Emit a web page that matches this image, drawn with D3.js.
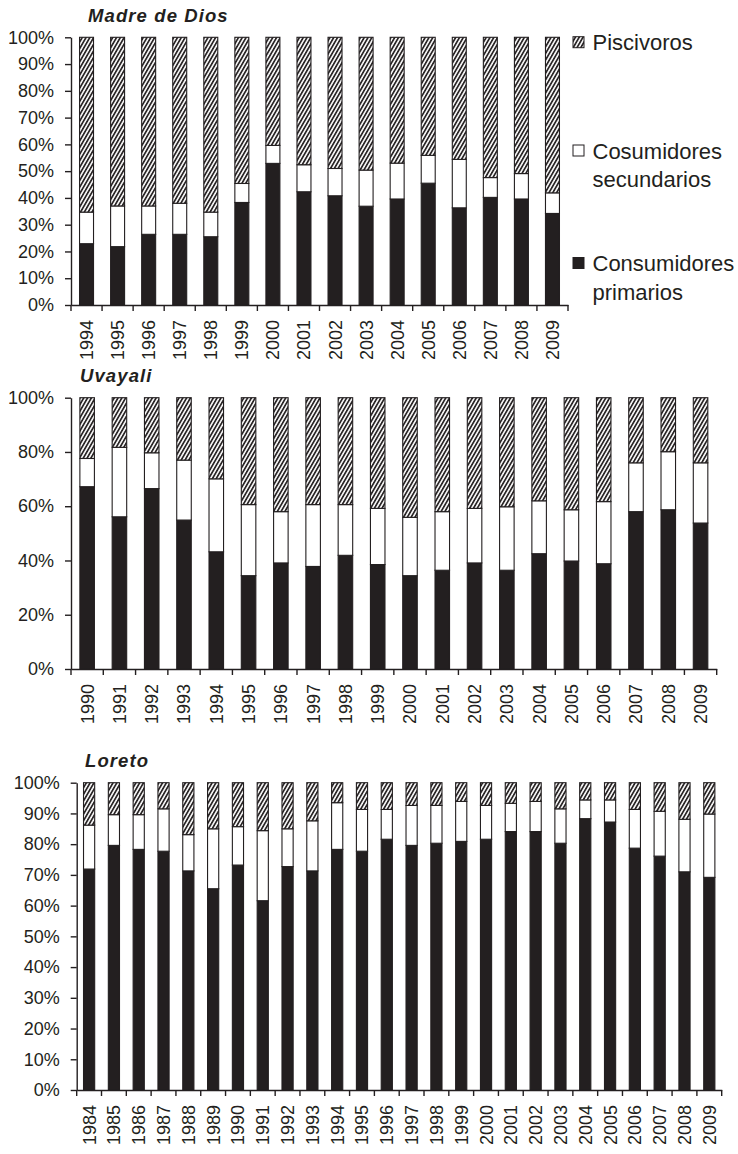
<!DOCTYPE html>
<html>
<head>
<meta charset="utf-8">
<script src="https://cdn.jsdelivr.net/npm/d3@7"></script>
<style>
  body { margin: 0; background: #fff; }
  svg { display: block; font-family: "Liberation Sans", Arial, sans-serif; }
</style>
</head>
<body>
<div id="chart"></div>
<script>
// Madre de Dios
const yearsMadre = ["1994","1995","1996","1997","1998","1999","2000","2001","2002","2003","2004","2005","2006","2007","2008","2009"];
const primMadre = [22.9,21.8,26.4,26.4,25.5,38.3,52.9,42.3,40.8,36.9,39.6,45.5,36.3,40.2,39.6,34.2];
const secMadre  = [11.8,15.2,10.6,11.6,9.2,7.1,6.7,10.1,10.2,13.5,13.4,10.4,18.1,7.4,9.5,7.7];
const pisMadre  = [65.3,63.0,63.0,62.0,65.3,54.6,40.4,47.6,49.0,49.6,47.0,44.1,45.6,52.4,50.9,58.1];

// Uvayali
const yearsUva = ["1990","1991","1992","1993","1994","1995","1996","1997","1998","1999","2000","2001","2002","2003","2004","2005","2006","2007","2008","2009"];
const primUva = [67.2,56.1,66.5,54.9,43.2,34.4,39.1,37.8,41.9,38.5,34.4,36.4,39.1,36.4,42.5,39.8,38.8,58.0,58.7,53.8];
const secUva  = [10.4,25.6,13.2,22.1,26.9,26.2,18.9,22.8,18.7,20.7,21.5,21.6,20.1,23.4,19.5,18.9,22.9,18.0,21.4,22.2];
const pisUva  = [22.4,18.3,20.3,23.0,29.9,39.4,42.0,39.4,39.4,40.8,44.1,42.0,40.8,40.2,38.0,41.3,38.3,24.0,19.9,24.0];

// Loreto
const yearsLor = ["1984","1985","1986","1987","1988","1989","1990","1991","1992","1993","1994","1995","1996","1997","1998","1999","2000","2001","2002","2003","2004","2005","2006","2007","2008","2009"];
const primLor = [71.9,79.6,78.3,77.7,71.3,65.5,73.2,61.6,72.7,71.3,78.3,77.7,81.6,79.6,80.3,80.9,81.6,84.1,84.1,80.3,88.3,87.2,78.7,76.1,71.0,69.2];
const secLor  = [14.3,10.0,11.3,13.8,11.8,19.5,12.5,22.8,12.3,16.3,15.2,13.6,9.7,13.0,12.3,13.0,11.0,9.2,9.8,11.2,6.1,7.2,12.6,14.6,17.1,20.6];
const pisLor  = [13.8,10.4,10.4,8.5,16.9,15.0,14.3,15.6,15.0,12.4,6.5,8.7,8.7,7.4,7.4,6.1,7.4,6.7,6.1,8.5,5.6,5.6,8.7,9.3,11.9,10.2];

const seriesKeys = ["prim", "sec", "pis"];
const legendLabels = [["Piscivoros"], ["Cosumidores", "secundarios"], ["Consumidores", "primarios"]];
const ink = "#231f20";

const width = 738, height = 1154;
const svg = d3.select("#chart").append("svg")
  .attr("width", width)
  .attr("height", height);

// hatch pattern for piscivoros
const defs = svg.append("defs");
defs.append("pattern")
  .attr("id", "hatch")
  .attr("patternUnits", "userSpaceOnUse")
  .attr("width", 3.3)
  .attr("height", 3.3)
  .attr("patternTransform", "rotate(30)")
  .call(p => {
    p.append("rect").attr("width", 3.3).attr("height", 3.3).attr("fill", "#fff");
    p.append("line").attr("x1", 0.9).attr("y1", 0).attr("x2", 0.9).attr("y2", 3.3)
      .attr("stroke", ink).attr("stroke-width", 1.7);
  });

const fills = { prim: ink, sec: "#fff", pis: "url(#hatch)" };

const panels = [
  { title: "Madre de Dios", years: yearsMadre, prim: primMadre, sec: secMadre, pis: pisMadre,
    left: 71, right: 568, top: 37.3, bottom: 305, ticks: d3.range(0, 1.01, 0.1), titleX: 88, titleY: 22 },
  { title: "Uvayali", years: yearsUva, prim: primUva, sec: secUva, pis: pisUva,
    left: 71, right: 716.7, top: 397.7, bottom: 669, ticks: d3.range(0, 1.01, 0.2), titleX: 80, titleY: 382 },
  { title: "Loreto", years: yearsLor, prim: primLor, sec: secLor, pis: pisLor,
    left: 76.7, right: 721.7, top: 782.7, bottom: 1090, ticks: d3.range(0, 1.01, 0.1), titleX: 85, titleY: 767 }
];

panels.forEach(drawPanel);

function drawPanel(p) {
  const rows = p.years.map((y, i) => ({ year: y, prim: p.prim[i], sec: p.sec[i], pis: p.pis[i] }));
  const stacked = d3.stack().keys(seriesKeys).offset(d3.stackOffsetExpand)(rows);

  const x = d3.scaleBand()
    .domain(p.years)
    .range([p.left, p.right])
    .paddingInner(0.55)
    .paddingOuter(0.275);
  const y = d3.scaleLinear().domain([0, 1]).range([p.bottom, p.top]);

  const g = svg.append("g");

  // bars
  g.selectAll("g.layer")
    .data(stacked)
    .join("g")
    .attr("class", "layer")
    .attr("fill", d => fills[d.key])
    .selectAll("rect")
    .data(d => d)
    .join("rect")
    .attr("x", d => x(d.data.year))
    .attr("y", d => y(d[1]))
    .attr("width", x.bandwidth())
    .attr("height", d => y(d[0]) - y(d[1]))
    .attr("stroke", ink)
    .attr("stroke-width", 1.1);

  // y axis
  const yAxis = g.append("g")
    .attr("transform", `translate(${p.left},0)`)
    .call(d3.axisLeft(y).tickValues(p.ticks).tickFormat(d3.format(".0%"))
      .tickSize(6).tickSizeOuter(0).tickPadding(11));
  yAxis.select(".domain").attr("stroke", ink).attr("stroke-width", 1.4);
  yAxis.selectAll(".tick line").attr("stroke", ink).attr("stroke-width", 1.4);
  yAxis.selectAll("text")
    .attr("font-size", 18)
    .attr("font-family", "Liberation Sans, Arial, sans-serif")
    .attr("fill", ink);

  // x axis: labels from band scale, ticks at band boundaries
  const xAxis = g.append("g")
    .attr("transform", `translate(0,${p.bottom})`)
    .call(d3.axisBottom(x).tickSize(0).tickSizeOuter(0));
  xAxis.select(".domain").attr("stroke", ink).attr("stroke-width", 1.4);
  xAxis.selectAll("text")
    .attr("transform", "rotate(-90)")
    .attr("x", -15)
    .attr("y", 0)
    .attr("dy", "0.36em")
    .attr("text-anchor", "end")
    .attr("font-size", 18)
    .attr("font-family", "Liberation Sans, Arial, sans-serif")
    .attr("fill", ink);

  g.append("g")
    .selectAll("line")
    .data(d3.range(p.years.length + 1))
    .join("line")
    .attr("x1", i => p.left + i * x.step())
    .attr("x2", i => p.left + i * x.step())
    .attr("y1", p.bottom)
    .attr("y2", p.bottom + 6)
    .attr("stroke", ink)
    .attr("stroke-width", 1.4);

  // title
  svg.append("text")
    .attr("x", p.titleX)
    .attr("y", p.titleY)
    .attr("font-size", 18.5)
    .attr("font-weight", "bold")
    .attr("font-style", "italic")
    .attr("letter-spacing", 1.1)
    .attr("fill", ink)
    .text(p.title);
}

// legend
const legendKeys = ["pis", "sec", "prim"];
const legendY = [36.7, 145, 257.5];
const legend = svg.append("g").attr("transform", "translate(573,0)");
legendKeys.forEach((k, i) => {
  legend.append("rect")
    .attr("x", 0)
    .attr("y", legendY[i])
    .attr("width", 11)
    .attr("height", 11)
    .attr("fill", fills[k])
    .attr("stroke", ink)
    .attr("stroke-width", 1);
  const t = legend.append("text")
    .attr("x", 19.5)
    .attr("y", legendY[i] + 13.5)
    .attr("font-size", 22)
    .attr("fill", ink);
  legendLabels[i].forEach((line, j) => {
    t.append("tspan").attr("x", 19.5).attr("dy", j === 0 ? 0 : 28.5).text(line);
  });
});
</script>
</body>
</html>
